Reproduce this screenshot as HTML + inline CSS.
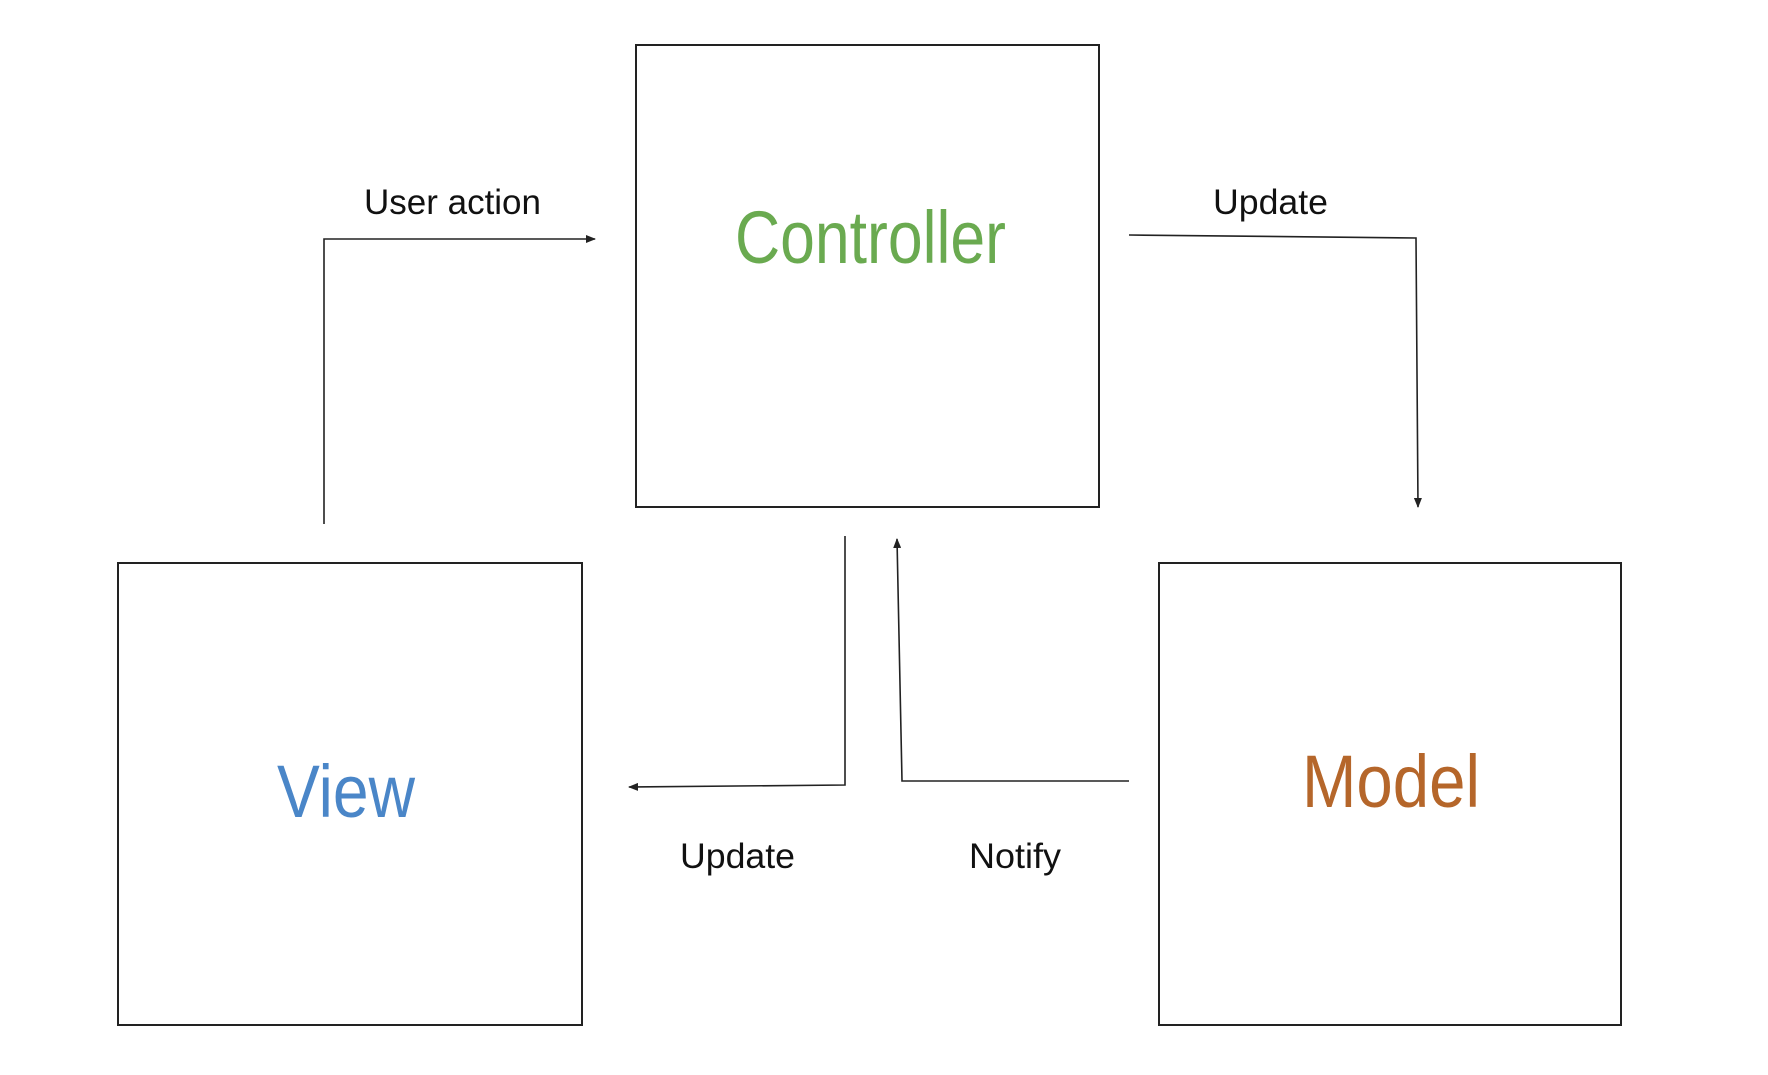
<!DOCTYPE html>
<html><head><meta charset="utf-8"><style>html,body{margin:0;padding:0;background:#fff}</style></head>
<body>
<svg width="1768" height="1070" viewBox="0 0 1768 1070" xmlns="http://www.w3.org/2000/svg" font-family="Liberation Sans, sans-serif">
<defs><marker id="a" markerWidth="10" markerHeight="8" refX="9" refY="4" orient="auto" markerUnits="userSpaceOnUse"><path d="M0,0 L10,4 L0,8 z" fill="#222"/></marker></defs>
<g fill="none" stroke="#222" stroke-width="2">
<rect x="636" y="45" width="463" height="462"/>
<rect x="118" y="563" width="464" height="462"/>
<rect x="1159" y="563" width="462" height="462"/>
<polyline points="324,524 324,239 595,239" marker-end="url(#a)" stroke-width="1.6"/>
<polyline points="1129,235 1416,238 1418,507" marker-end="url(#a)" stroke-width="1.6"/>
<polyline points="845,536 845,785 629,787" marker-end="url(#a)" stroke-width="1.6"/>
<polyline points="1129,781 902,781 897,539" marker-end="url(#a)" stroke-width="1.6"/>
</g>
<g fill="#111" font-size="35">
<text x="364" y="214" textLength="177" lengthAdjust="spacingAndGlyphs">User action</text>
<text x="1213" y="214" textLength="115" lengthAdjust="spacingAndGlyphs">Update</text>
<text x="680" y="868" textLength="115" lengthAdjust="spacingAndGlyphs">Update</text>
<text x="969" y="868" textLength="92" lengthAdjust="spacingAndGlyphs">Notify</text>
</g>
<text x="735" y="263" font-size="74" fill="#6aaa50" textLength="271" lengthAdjust="spacingAndGlyphs">Controller</text>
<text x="277" y="817" font-size="74" fill="#4a86c8" textLength="138" lengthAdjust="spacingAndGlyphs">View</text>
<text x="1302" y="807" font-size="74" fill="#b5662a" textLength="178" lengthAdjust="spacingAndGlyphs">Model</text>
</svg>
</body></html>
